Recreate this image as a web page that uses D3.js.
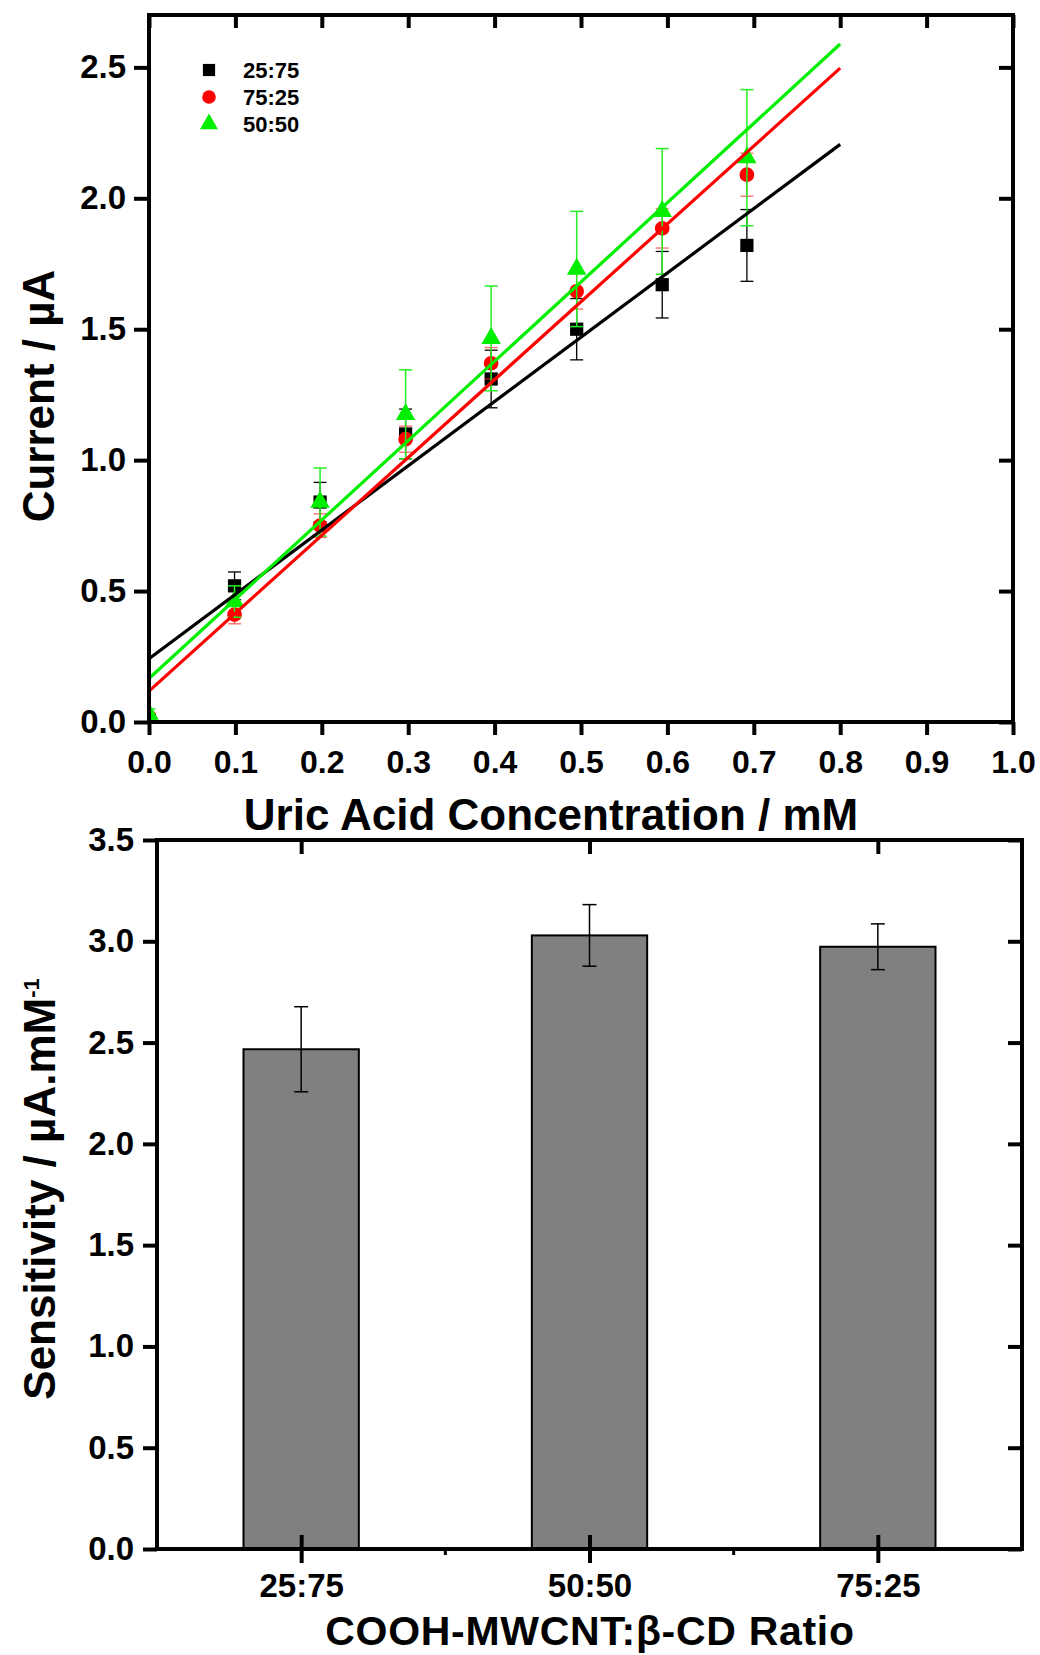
<!DOCTYPE html>
<html>
<head>
<meta charset="utf-8">
<script src="https://cdn.jsdelivr.net/npm/d3@7"></script>
<style>
  body { margin: 0; background: #fff; }
  text { font-family: "Liberation Sans", Arial, sans-serif; font-weight: bold; fill: #000; }
</style>
</head>
<body>
<svg id="fig" width="1040" height="1655"></svg>
<script>
// ---- calibration data: current vs. uric acid concentration ----
const concentration = [0, 0.099, 0.198, 0.297, 0.396, 0.495, 0.594, 0.692]; // mM
const ratios = ["25:75", "75:25", "50:50"];
const current2575 = [0.01, 0.52, 0.84, 1.10, 1.31, 1.50, 1.67, 1.82];
const error2575   = [0.01, 0.053, 0.075, 0.095, 0.11, 0.117, 0.127, 0.137];
const current7525 = [0.02, 0.41, 0.75, 1.08, 1.37, 1.645, 1.885, 2.09];
const error7525   = [0.01, 0.035, 0.045, 0.05, 0.06, 0.068, 0.075, 0.082];
const current5050 = [0.03, 0.46, 0.84, 1.175, 1.465, 1.73, 1.95, 2.155];
const error5050   = [0.02, 0.06, 0.13, 0.17, 0.20, 0.22, 0.24, 0.26];
// linear fits (intercept in µA, slope in µA/mM), same order as ratios
const fitIntercept = [0.242, 0.118, 0.166];
const fitSlope     = [2.455, 2.974, 3.029];
const fitRange     = [0, 0.8];
const xTicks = [0, 0.1, 0.2, 0.3, 0.4, 0.5, 0.6, 0.7, 0.8, 0.9, 1.0];
const yTicksTop = [0, 0.5, 1.0, 1.5, 2.0, 2.5];

// ---- sensitivity per composition ----
const barCategories = ["25:75", "50:50", "75:25"];
const sensitivity   = [2.467, 3.029, 2.973];
const sensitivityErr = [0.21, 0.152, 0.113];
const yTicksBottom = [0, 0.5, 1.0, 1.5, 2.0, 2.5, 3.0, 3.5];

const svg = d3.select("#fig");
const fmt = d3.format(".1f");

function styleAxis(g, width) {
  g.select(".domain").remove();
  g.selectAll(".tick line").attr("stroke", "#000").attr("stroke-width", width);
}

// ================= upper panel: calibration =================
const T = { left: 149, right: 1013, top: 15, bottom: 722 };
const x = d3.scaleLinear().domain([0, 1]).range([T.left, T.right]);
const y = d3.scaleLinear().domain([0, 2.7]).range([T.bottom, T.top]);

const upper = svg.append("g");
upper.append("clipPath").attr("id", "clipTop").append("rect")
  .attr("x", T.left).attr("y", T.top).attr("width", T.right - T.left).attr("height", T.bottom - T.top);

const series = [
  { name: ratios[0], v: current2575, e: error2575, color: "#000000", err: "#000000", errW: 1.3, sym: d3.symbolSquare, size: 175, fit: 0 },
  { name: ratios[1], v: current7525, e: error7525, color: "#ff0000", err: "rgba(255,40,40,0.7)", errW: 1.3, sym: d3.symbolCircle, size: 170, fit: 1 },
  { name: ratios[2], v: current5050, e: error5050, color: "#00ee00", err: "#22ee22", errW: 1.5, sym: d3.symbolTriangle, size: 165, fit: 2 }
];

const plot = upper.append("g").attr("clip-path", "url(#clipTop)");
series.forEach(s => {
  const g = plot.append("g");
  concentration.forEach((c, i) => {
    const cx = x(c), y1 = y(s.v[i] + s.e[i]), y0 = y(s.v[i] - s.e[i]);
    g.append("line").attr("x1", cx).attr("x2", cx).attr("y1", y1).attr("y2", y0)
      .attr("stroke", s.err).attr("stroke-width", s.errW);
    [y1, y0].forEach(yy => g.append("line").attr("x1", cx - 6.5).attr("x2", cx + 6.5)
      .attr("y1", yy).attr("y2", yy).attr("stroke", s.err).attr("stroke-width", s.errW));
  });
  g.selectAll("path.pt").data(concentration).join("path").attr("class", "pt")
    .attr("d", d3.symbol().type(s.sym).size(s.size))
    .attr("transform", (c, i) => `translate(${x(c)},${y(s.v[i])})`)
    .attr("fill", s.color);
});
// fitted lines
const line = d3.line().x(d => x(d[0])).y(d => y(d[1]));
series.forEach(s => {
  const pts = fitRange.map(c => [c, fitIntercept[s.fit] + fitSlope[s.fit] * c]);
  plot.append("path").attr("d", line(pts)).attr("fill", "none")
    .attr("stroke", s.color).attr("stroke-width", 3.2);
});

// axes
const xb = upper.append("g").attr("transform", `translate(0,${T.bottom})`)
  .call(d3.axisBottom(x).tickValues(xTicks).tickFormat(fmt).tickSize(13).tickPadding(15));
styleAxis(xb, 4);
xb.selectAll("text").style("font-size", "32px");
const xt = upper.append("g").attr("transform", `translate(0,${T.top})`)
  .call(d3.axisBottom(x).tickValues(xTicks).tickFormat("").tickSize(13));
styleAxis(xt, 4);
const yl = upper.append("g").attr("transform", `translate(${T.left},0)`)
  .call(d3.axisLeft(y).tickValues(yTicksTop).tickFormat(fmt).tickSize(15).tickPadding(8));
styleAxis(yl, 4);
yl.selectAll("text").style("font-size", "33px");
const yr = upper.append("g").attr("transform", `translate(${T.right},0)`)
  .call(d3.axisLeft(y).tickValues(yTicksTop).tickFormat("").tickSize(14));
styleAxis(yr, 4);
upper.append("rect").attr("x", T.left).attr("y", T.top)
  .attr("width", T.right - T.left).attr("height", T.bottom - T.top)
  .attr("fill", "none").attr("stroke", "#000").attr("stroke-width", 4);

// legend
const legend = upper.append("g");
series.forEach((s, i) => {
  const ly = 70 + i * 27;
  legend.append("path").attr("d", d3.symbol().type(s.sym).size(s.size * 0.85)())
    .attr("transform", `translate(209,${ly})`).attr("fill", s.color);
  legend.append("text").attr("x", 243).attr("y", ly + 8).style("font-size", "22px").text(s.name);
});

upper.append("text").attr("x", 551).attr("y", 830).attr("text-anchor", "middle")
  .style("font-size", "44px").text("Uric Acid Concentration / mM");
upper.append("text").attr("transform", "translate(54,396) rotate(-90)").attr("text-anchor", "middle")
  .style("font-size", "44px").text("Current / \u00b5A");

// ================= lower panel: sensitivity =================
const B = { left: 157, right: 1022, top: 840, bottom: 1549 };
const xc = d3.scaleBand().domain(barCategories).range([B.left, B.right]).padding(0);
const ys = d3.scaleLinear().domain([0, 3.5]).range([B.bottom, B.top]);
const bw = xc.bandwidth();
const lower = svg.append("g");

lower.selectAll("rect.bar").data(barCategories).join("rect").attr("class", "bar")
  .attr("x", c => xc(c) + bw * 0.3).attr("width", bw * 0.4)
  .attr("y", (c, i) => ys(sensitivity[i])).attr("height", (c, i) => ys(0) - ys(sensitivity[i]))
  .attr("fill", "#808080").attr("stroke", "#000").attr("stroke-width", 2);

barCategories.forEach((c, i) => {
  const cx = xc(c) + bw / 2;
  const y1 = ys(sensitivity[i] + sensitivityErr[i]), y0 = ys(sensitivity[i] - sensitivityErr[i]);
  lower.append("line").attr("x1", cx).attr("x2", cx).attr("y1", y1).attr("y2", y0)
    .attr("stroke", "#000").attr("stroke-width", 1.5);
  [y1, y0].forEach(yy => lower.append("line").attr("x1", cx - 7).attr("x2", cx + 7)
    .attr("y1", yy).attr("y2", yy).attr("stroke", "#000").attr("stroke-width", 1.5));
});

const centers = d3.scalePoint().domain(barCategories).range([B.left + bw / 2, B.right - bw / 2]);
// bottom edge: major ticks crossing the axis, minor ticks at band edges
const cb = lower.append("g").attr("transform", `translate(0,${B.bottom})`)
  .call(d3.axisBottom(centers).tickSize(14).tickPadding(11));
styleAxis(cb, 4);
cb.selectAll(".tick line").attr("y1", -14);
cb.selectAll("text").style("font-size", "33px");
const minorX = barCategories.slice(1).map(c => xc(c));
lower.selectAll("line.minorB").data(minorX).join("line").attr("class", "minorB")
  .attr("x1", d => d).attr("x2", d => d).attr("y1", B.bottom).attr("y2", B.bottom + 6)
  .attr("stroke", "#000").attr("stroke-width", 3);
const ct = lower.append("g").attr("transform", `translate(0,${B.top})`)
  .call(d3.axisBottom(centers).tickFormat("").tickSize(14));
styleAxis(ct, 4);
const sl = lower.append("g").attr("transform", `translate(${B.left},0)`)
  .call(d3.axisLeft(ys).tickValues(yTicksBottom).tickFormat(fmt).tickSize(14).tickPadding(9));
styleAxis(sl, 4);
sl.selectAll("text").style("font-size", "33px");
const sr = lower.append("g").attr("transform", `translate(${B.right},0)`)
  .call(d3.axisLeft(ys).tickValues(yTicksBottom).tickFormat("").tickSize(14));
styleAxis(sr, 4);
lower.append("rect").attr("x", B.left).attr("y", B.top)
  .attr("width", B.right - B.left).attr("height", B.bottom - B.top)
  .attr("fill", "none").attr("stroke", "#000").attr("stroke-width", 4);

lower.append("text").attr("x", 590).attr("y", 1645).attr("text-anchor", "middle")
  .style("font-size", "41px").style("letter-spacing", "0.7px").text("COOH-MWCNT:\u03b2-CD Ratio");
const st = lower.append("text").attr("transform", "translate(55,1189) rotate(-90)")
  .attr("text-anchor", "middle").style("font-size", "44px");
st.append("tspan").text("Sensitivity / \u00b5A.mM");
st.append("tspan").attr("dy", "-0.75em").style("font-size", "22px").text("-1");
</script>
</body>
</html>
